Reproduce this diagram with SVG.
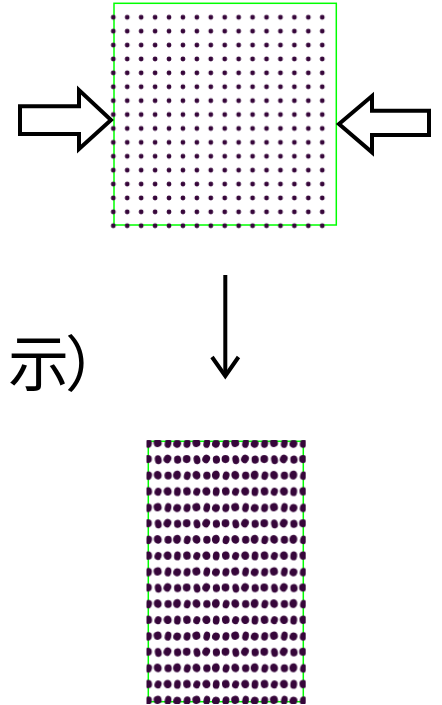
<svg xmlns="http://www.w3.org/2000/svg" width="442" height="705" viewBox="0 0 442 705">
<style>
.frame{fill:none;stroke:#00ff00;stroke-width:1.5}
.block{fill:#ffffff;stroke:#000000;stroke-width:4;stroke-linejoin:miter;stroke-miterlimit:10}
.conn{fill:none;stroke:#000000;stroke-width:4;stroke-linejoin:miter;stroke-miterlimit:10}
.dot{fill:#36063a}
.label{font-family:"Noto Sans CJK JP","Noto Sans CJK SC",sans-serif;font-size:61px;letter-spacing:-4px;fill:#000000}
</style>
<defs>
<pattern id="grid0" patternUnits="userSpaceOnUse" x="106.335" y="10.35" width="13.93" height="13.9">
<circle class="dot" cx="6.965" cy="6.95" r="2.4"/>
</pattern>
<pattern id="grid1" patternUnits="userSpaceOnUse" x="143.455" y="435.27" width="38.76" height="64.24">
<g class="dot">
<ellipse cx="4.9" cy="8.4" rx="3.5" ry="4.3" transform="rotate(10 4.9 8.4)"/>
<ellipse cx="14.2" cy="7.7" rx="4.0" ry="4.1" transform="rotate(-15 14.2 7.7)"/>
<ellipse cx="24.6" cy="8.1" rx="3.3" ry="4.6" transform="rotate(12 24.6 8.1)"/>
<ellipse cx="33.7" cy="8.5" rx="3.9" ry="4.0" transform="rotate(20 33.7 8.5)"/>
<ellipse cx="4.5" cy="23.8" rx="3.9" ry="4.0"/>
<ellipse cx="14.8" cy="24.5" rx="3.4" ry="4.5" transform="rotate(-12 14.8 24.5)"/>
<ellipse cx="24.0" cy="23.7" rx="3.8" ry="4.3" transform="rotate(25 24.0 23.7)"/>
<ellipse cx="34.2" cy="24.3" rx="3.6" ry="4.1" transform="rotate(-5 34.2 24.3)"/>
<ellipse cx="5.1" cy="40.4" rx="3.4" ry="4.3" transform="rotate(15 5.1 40.4)"/>
<ellipse cx="14.3" cy="39.9" rx="3.9" ry="4.4" transform="rotate(-20 14.3 39.9)"/>
<ellipse cx="24.7" cy="40.3" rx="3.7" ry="4.0"/>
<ellipse cx="33.6" cy="39.8" rx="3.9" ry="4.5" transform="rotate(10 33.6 39.8)"/>
<ellipse cx="4.8" cy="56.0" rx="3.8" ry="4.2" transform="rotate(-8 4.8 56.0)"/>
<ellipse cx="14.6" cy="56.5" rx="3.5" ry="4.1" transform="rotate(18 14.6 56.5)"/>
<ellipse cx="24.2" cy="56.1" rx="4.0" ry="4.3" transform="rotate(-22 24.2 56.1)"/>
<ellipse cx="34.0" cy="56.4" rx="3.4" ry="4.5" transform="rotate(6 34.0 56.4)"/>
</g>
</pattern>
<clipPath id="clip1"><rect x="146.5" y="440" width="159.2" height="264"/></clipPath>
</defs>

<g id="panel-before">
<rect class="frame" x="114" y="3.3" width="222.3" height="221.7"/>
<rect x="106.335" y="10.35" width="222.88" height="222.4" fill="url(#grid0)"/>
</g>

<g id="arrow-left">
<polygon class="block" points="20,106.3 79,106.3 79,90 111,120 79,149 79,134 20,134"/>
</g>

<g id="arrow-right">
<polygon class="block" points="429,110.7 372,110.7 372,96 339,124 372,152.3 372,135 429,135"/>
</g>

<g id="label">
<text class="label" x="8" y="386">示）</text>
</g>

<g id="connectors">
<line class="conn" x1="225.3" y1="275" x2="225.3" y2="375"/>
<polyline class="conn" points="212,357 225.3,376 238.5,357"/>
</g>

<g id="panel-after">
<rect class="frame" x="148.3" y="441.3" width="155" height="260.4"/>
<rect x="140" y="430" width="170" height="280" fill="url(#grid1)" clip-path="url(#clip1)"/>
</g>
</svg>
